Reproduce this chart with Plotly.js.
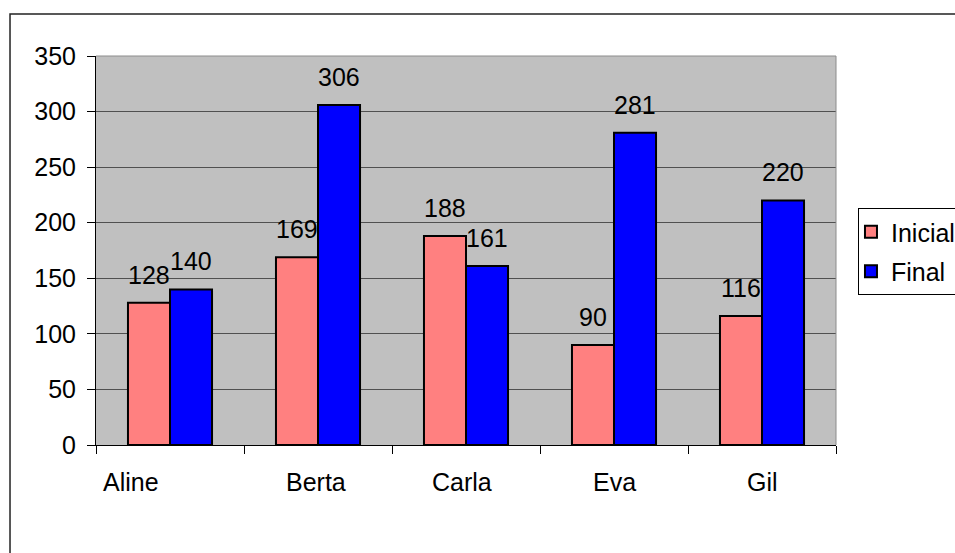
<!DOCTYPE html>
<html>
<head>
<meta charset="utf-8">
<script src="https://cdn.plot.ly/plotly-3.0.1.min.js"></script>
<style>
html,body{margin:0;padding:0;background:#fff;}
#chart{width:955px;height:553px;}
</style>
</head>
<body>
<div id="chart"></div>
<script>
var categories = ["Aline", "Berta", "Carla", "Eva", "Gil"];
var inicial = [128, 169, 188, 90, 116];
var final = [140, 306, 161, 281, 220];
var seriesNames = ["Inicial", "Final"];

var FONT = "Liberation Sans, Arial, sans-serif";
var FS = 25;
var colors = ["#FF8080", "#0000FF"];
var series = [inicial, final];

var traces = series.map(function (vals, i) {
  return {
    type: "bar",
    name: seriesNames[i],
    legendgroup: "g" + i,
    x: categories,
    y: vals,
    marker: {color: colors[i], line: {color: "#000", width: 2}},
    hoverinfo: "x+y"
  };
});

var annotations = [];
var barOffset = [-21, 21];
series.forEach(function (vals, i) {
  vals.forEach(function (v, j) {
    annotations.push({
      x: categories[j], y: v, xref: "x", yref: "y",
      text: String(v), showarrow: false,
      xshift: barOffset[i], yshift: 28,
      xanchor: "center", yanchor: "middle",
      font: {family: FONT, size: FS, color: "#000"}
    });
  });
});
var labelShift = {"Aline": -39, "Berta": -2, "Carla": -4};
categories.forEach(function (c) {
  annotations.push({
    x: c, y: 0, xref: "x", yref: "paper",
    text: c, showarrow: false,
    xshift: labelShift[c] || 0, yshift: -37,
    xanchor: "center", yanchor: "middle",
    font: {family: FONT, size: FS, color: "#000"}
  });
});

var layout = {
  width: 955, height: 553,
  margin: {l: 96, r: 119, t: 56, b: 108, autoexpand: false},
  paper_bgcolor: "#FFFFFF",
  plot_bgcolor: "#C0C0C0",
  font: {family: FONT, size: FS, color: "#000"},
  barmode: "group",
  bargap: 0.432,
  bargroupgap: 0,
  showlegend: true,
  legend: {
    x: 1.0297, xanchor: "left", y: 0.609, yanchor: "top",
    bgcolor: "#FFFFFF", bordercolor: "#000", borderwidth: 1,
    font: {family: FONT, size: FS, color: "#000"},
    traceorder: "grouped", tracegroupgap: 4, indentation: -8
  },
  xaxis: {
    type: "category",
    showline: true, linecolor: "#000", linewidth: 1,
    ticks: "outside", tickson: "boundaries", ticklen: 8, tickcolor: "#000",
    showticklabels: false, showgrid: false, zeroline: false, fixedrange: true
  },
  yaxis: {
    range: [0, 350], dtick: 50, tick0: 0,
    showline: true, linecolor: "#000", linewidth: 1,
    ticks: "outside", ticklen: 8, tickcolor: "#000",
    ticklabelstandoff: 6,
    showgrid: true, gridcolor: "#505050", gridwidth: 1,
    zeroline: false, fixedrange: true,
    tickfont: {family: FONT, size: FS, color: "#000"}
  },
  shapes: [
    {type: "line", xref: "paper", yref: "paper", x0: 1, x1: 1, y0: 0, y1: 1,
     line: {color: "#8C8C8C", width: 1}},
    {type: "line", xref: "paper", yref: "paper", x0: 0, x1: 1, y0: 1, y1: 1,
     line: {color: "#8C8C8C", width: 1}},
    {type: "rect", xref: "paper", yref: "paper", x0: -0.1162, x1: 2, y0: -1, y1: 1.108,
     line: {color: "#222", width: 1.5}, fillcolor: "rgba(0,0,0,0)", layer: "below"}
  ],
  annotations: annotations
};

Plotly.newPlot("chart", traces, layout, {displayModeBar: false, staticPlot: true});
</script>
</body>
</html>
